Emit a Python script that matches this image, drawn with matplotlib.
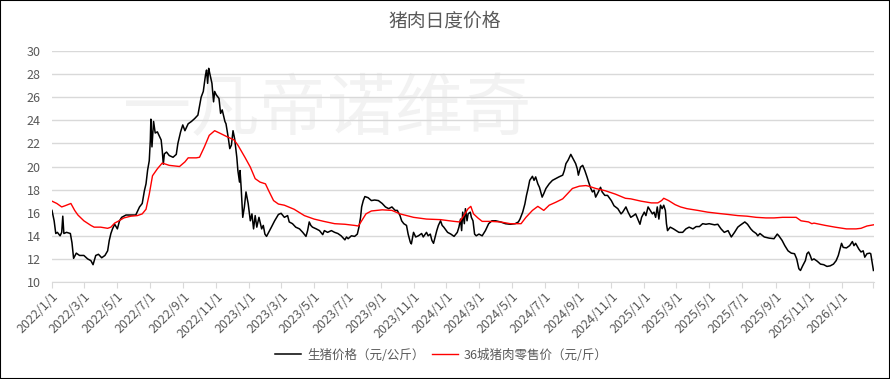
import matplotlib
matplotlib.use('Agg')
import matplotlib.pyplot as plt
from matplotlib.patches import Rectangle
import pandas as pd

plt.rcParams['font.family'] = ['Noto Sans CJK SC', 'DejaVu Sans']

# 生猪价格（元/公斤）
hog_dates = [
    '2022-01-01', '2022-01-05', '2022-01-08', '2022-01-11', '2022-01-16', '2022-01-19', '2022-01-21',
    '2022-01-23', '2022-01-28', '2022-02-04', '2022-02-07', '2022-02-10', '2022-02-15', '2022-02-21',
    '2022-03-01', '2022-03-08', '2022-03-14', '2022-03-18', '2022-03-23', '2022-03-28', '2022-04-03',
    '2022-04-09', '2022-04-14', '2022-04-17', '2022-04-20', '2022-04-23', '2022-04-27', '2022-05-02',
    '2022-05-06', '2022-05-10', '2022-05-18', '2022-05-27', '2022-06-05', '2022-06-12', '2022-06-17',
    '2022-06-21', '2022-06-24', '2022-06-27', '2022-06-30', '2022-07-02', '2022-07-03', '2022-07-05',
    '2022-07-08', '2022-07-11', '2022-07-15', '2022-07-19', '2022-07-22', '2022-07-24', '2022-07-26',
    '2022-07-28', '2022-08-01', '2022-08-06', '2022-08-13', '2022-08-19', '2022-08-22', '2022-08-27',
    '2022-08-31', '2022-09-04', '2022-09-10', '2022-09-16', '2022-09-22', '2022-09-28', '2022-10-04',
    '2022-10-08', '2022-10-12', '2022-10-14', '2022-10-16', '2022-10-18', '2022-10-20', '2022-10-24',
    '2022-10-27', '2022-10-29', '2022-11-01', '2022-11-06', '2022-11-09', '2022-11-12', '2022-11-17',
    '2022-11-19', '2022-11-23', '2022-11-26', '2022-11-29', '2022-12-02', '2022-12-05', '2022-12-09',
    '2022-12-11', '2022-12-14', '2022-12-15', '2022-12-17', '2022-12-20', '2022-12-23', '2022-12-26',
    '2022-12-30', '2023-01-03', '2023-01-06', '2023-01-09', '2023-01-12', '2023-01-15', '2023-01-19',
    '2023-01-24', '2023-01-27', '2023-01-30', '2023-02-02', '2023-02-06', '2023-02-11', '2023-02-17',
    '2023-02-24', '2023-03-01', '2023-03-07', '2023-03-13', '2023-03-16', '2023-03-22', '2023-03-28',
    '2023-04-04', '2023-04-10', '2023-04-16', '2023-04-19', '2023-04-22', '2023-04-25', '2023-04-28',
    '2023-05-05', '2023-05-11', '2023-05-17', '2023-05-20', '2023-05-26', '2023-06-02', '2023-06-08',
    '2023-06-14', '2023-06-20', '2023-06-27', '2023-06-30', '2023-07-03', '2023-07-09', '2023-07-15',
    '2023-07-20', '2023-07-23', '2023-07-26', '2023-07-28', '2023-07-31', '2023-08-03', '2023-08-09',
    '2023-08-15', '2023-08-21', '2023-08-28', '2023-09-04', '2023-09-10', '2023-09-16', '2023-09-22',
    '2023-09-28', '2023-10-02', '2023-10-07', '2023-10-10', '2023-10-14', '2023-10-19', '2023-10-22',
    '2023-10-26', '2023-10-28', '2023-11-01', '2023-11-05', '2023-11-10', '2023-11-16', '2023-11-19',
    '2023-11-25', '2023-11-28', '2023-12-02', '2023-12-05', '2023-12-08', '2023-12-11', '2023-12-14',
    '2023-12-17', '2023-12-21', '2023-12-24', '2023-12-27', '2024-01-03', '2024-01-09', '2024-01-15',
    '2024-01-21', '2024-01-24', '2024-01-27', '2024-01-29', '2024-01-31', '2024-02-03', '2024-02-05',
    '2024-02-08', '2024-02-10', '2024-02-14', '2024-02-16', '2024-02-19', '2024-02-22', '2024-02-25',
    '2024-03-01', '2024-03-07', '2024-03-13', '2024-03-19', '2024-03-25', '2024-04-01', '2024-04-10',
    '2024-04-19', '2024-04-28', '2024-05-07', '2024-05-13', '2024-05-16', '2024-05-21', '2024-05-25',
    '2024-05-28', '2024-05-31', '2024-06-03', '2024-06-08', '2024-06-11', '2024-06-14', '2024-06-18',
    '2024-06-21', '2024-06-26', '2024-06-29', '2024-07-03', '2024-07-09', '2024-07-15', '2024-07-21',
    '2024-07-27', '2024-08-03', '2024-08-06', '2024-08-09', '2024-08-13', '2024-08-18', '2024-08-22',
    '2024-08-27', '2024-08-30', '2024-09-01', '2024-09-05', '2024-09-09', '2024-09-13', '2024-09-17',
    '2024-09-20', '2024-09-24', '2024-09-27', '2024-09-30', '2024-10-03', '2024-10-08', '2024-10-12',
    '2024-10-15', '2024-10-20', '2024-10-25', '2024-11-01', '2024-11-06', '2024-11-13', '2024-11-19',
    '2024-11-22', '2024-11-28', '2024-12-02', '2024-12-07', '2024-12-12', '2024-12-16', '2024-12-20',
    '2024-12-24', '2024-12-27', '2025-01-01', '2025-01-04', '2025-01-08', '2025-01-12', '2025-01-16',
    '2025-01-19', '2025-01-22', '2025-01-25', '2025-01-28', '2025-01-31', '2025-02-03', '2025-02-06',
    '2025-02-09', '2025-02-11', '2025-02-13', '2025-02-18', '2025-02-24', '2025-03-01', '2025-03-06',
    '2025-03-13', '2025-03-19', '2025-03-25', '2025-04-01', '2025-04-07', '2025-04-13', '2025-04-19',
    '2025-04-25', '2025-05-01', '2025-05-11', '2025-05-17', '2025-05-23', '2025-05-29', '2025-06-05',
    '2025-06-11', '2025-06-17', '2025-06-23', '2025-06-27', '2025-07-03', '2025-07-06', '2025-07-11',
    '2025-07-17', '2025-07-21', '2025-07-27', '2025-07-30', '2025-08-03', '2025-08-11', '2025-08-20',
    '2025-08-29', '2025-09-04', '2025-09-07', '2025-09-13', '2025-09-18', '2025-09-24', '2025-09-30',
    '2025-10-06', '2025-10-10', '2025-10-14', '2025-10-17', '2025-10-21', '2025-10-26', '2025-10-29',
    '2025-11-01', '2025-11-04', '2025-11-07', '2025-11-11', '2025-11-17', '2025-11-23', '2025-11-29',
    '2025-12-05', '2025-12-11', '2025-12-17', '2025-12-22', '2025-12-26', '2026-01-01', '2026-01-04',
    '2026-01-10', '2026-01-16', '2026-01-21', '2026-01-24', '2026-01-27', '2026-02-02', '2026-02-06',
    '2026-02-10', '2026-02-13', '2026-02-17', '2026-02-22', '2026-02-24', '2026-02-27', '2026-03-01',
]
hog_price = [
    16.2, 15.3, 14.2, 14.3, 14.0, 14.3, 15.7,
    14.2, 14.3, 14.2, 13.4, 12.05, 12.5, 12.3,
    12.3, 12.0, 11.85, 11.5, 12.3, 12.4, 12.1,
    12.3, 12.7, 13.6, 14.2, 14.6, 15.0, 14.6,
    15.3, 15.6, 15.8, 15.8, 15.8, 16.5, 16.8,
    17.9, 18.5, 19.7, 20.5, 22.3, 24.1, 21.7,
    23.9, 22.9, 23.0, 22.6, 22.3, 21.4, 20.2,
    21.1, 21.25, 20.95, 20.8, 21.05, 22.0, 23.0,
    23.6, 23.1, 23.7, 23.9, 24.15, 24.45, 26.0,
    26.5, 27.9, 28.35, 27.2, 28.5, 28.05, 27.2,
    25.6, 26.5, 26.2, 25.9, 24.6, 24.9, 23.9,
    23.7, 22.55, 21.55, 21.85, 23.1, 22.4, 20.8,
    19.65, 18.65, 19.65, 18.2, 15.6, 16.5, 17.8,
    16.8, 15.3, 15.9, 14.6, 15.75, 14.75, 15.6,
    14.6, 14.9, 14.15, 13.95, 14.3, 14.75, 15.3,
    15.85, 15.95, 15.6, 15.75, 15.2, 15.05, 14.75,
    14.6, 14.3, 13.95, 14.45, 15.2, 14.9, 14.75,
    14.6, 14.45, 14.1, 14.45, 14.3, 14.45, 14.3,
    14.2, 14.0, 13.65, 13.9, 13.75, 14.0, 13.95,
    14.15, 14.75, 15.6, 16.5, 17.05, 17.4, 17.3,
    17.05, 17.1, 17.05, 16.8, 16.5, 16.35, 16.5,
    16.2, 16.2, 15.75, 15.3, 15.05, 14.9, 14.15,
    13.45, 13.3, 14.3, 13.9, 14.0, 14.2, 13.9,
    14.3, 14.0, 14.15, 13.6, 13.35, 13.9, 14.45,
    14.9, 15.3, 14.9, 14.75, 14.3, 14.15, 13.95,
    14.3, 14.75, 15.45, 14.45, 16.05, 15.05, 16.35,
    15.3, 15.9, 16.05, 15.6, 15.3, 14.15, 14.0,
    14.15, 14.0, 14.45, 15.05, 15.3, 15.3, 15.2,
    15.05, 15.0, 15.05, 15.2, 15.45, 16.05, 16.75,
    17.5, 18.1, 18.8, 19.15, 18.8, 19.1, 18.5,
    18.2, 17.35, 17.65, 18.1, 18.5, 18.8, 18.95,
    19.1, 19.25, 19.65, 20.25, 20.55, 21.05, 20.7,
    20.25, 19.8, 19.25, 19.95, 20.1, 19.65, 19.1,
    18.65, 18.1, 17.8, 17.95, 17.35, 17.8, 18.2,
    17.8, 17.5, 17.5, 17.05, 16.6, 16.35, 15.9,
    16.05, 16.5, 16.05, 15.6, 15.75, 15.9, 15.45,
    15.0, 15.6, 16.05, 15.75, 16.5, 16.2, 15.9,
    16.05, 15.6, 16.5, 15.45, 16.65, 16.35, 16.65,
    16.2, 15.05, 14.45, 14.75, 14.6, 14.45, 14.3,
    14.3, 14.6, 14.75, 14.6, 14.8, 14.8, 15.05,
    15.0, 15.05, 14.95, 15.0, 14.6, 14.3, 14.45,
    13.9, 14.3, 14.75, 14.9, 15.1, 15.2, 15.0,
    14.6, 14.4, 14.2, 14.0, 14.2, 13.9, 13.8,
    13.75, 14.15, 14.0, 13.6, 13.15, 12.7, 12.5,
    12.45, 12.0, 11.15, 11.0, 11.4, 11.85, 12.45,
    12.6, 12.3, 11.9, 12.0, 11.8, 11.55, 11.5,
    11.35, 11.4, 11.55, 11.85, 12.3, 13.35, 13.0,
    12.95, 13.15, 13.5, 13.15, 13.35, 12.85, 12.6,
    12.7, 12.15, 12.45, 12.5, 12.45, 11.55, 11.0,
]

# 36城猪肉零售价（元/斤）
retail_dates = [
    '2022-01-01', '2022-01-10', '2022-01-19', '2022-01-25', '2022-02-05', '2022-02-12', '2022-02-18',
    '2022-03-01', '2022-03-14', '2022-03-20', '2022-04-01', '2022-04-14', '2022-04-20', '2022-04-27',
    '2022-05-05', '2022-05-14', '2022-05-27', '2022-06-08', '2022-06-17', '2022-06-24', '2022-06-30',
    '2022-07-06', '2022-07-15', '2022-07-24', '2022-08-06', '2022-08-25', '2022-09-04', '2022-09-10',
    '2022-09-25', '2022-10-01', '2022-10-10', '2022-10-19', '2022-10-29', '2022-11-07', '2022-11-20',
    '2022-12-04', '2022-12-11', '2022-12-24', '2023-01-03', '2023-01-12', '2023-01-21', '2023-01-31',
    '2023-02-06', '2023-02-15', '2023-02-24', '2023-03-07', '2023-03-25', '2023-04-13', '2023-05-01',
    '2023-05-19', '2023-06-08', '2023-06-27', '2023-07-15', '2023-07-22', '2023-07-28', '2023-08-05',
    '2023-08-15', '2023-09-04', '2023-09-22', '2023-10-07', '2023-11-01', '2023-11-25', '2023-12-21',
    '2024-01-15', '2024-01-25', '2024-01-31', '2024-02-06', '2024-02-10', '2024-02-15', '2024-02-20',
    '2024-02-28', '2024-03-07', '2024-03-22', '2024-04-10', '2024-04-28', '2024-05-18', '2024-05-27',
    '2024-06-08', '2024-06-18', '2024-06-29', '2024-07-09', '2024-07-21', '2024-08-03', '2024-08-12',
    '2024-08-21', '2024-09-03', '2024-09-15', '2024-09-20', '2024-10-03', '2024-10-21', '2024-11-09',
    '2024-11-27', '2024-12-07', '2024-12-26', '2025-01-14', '2025-01-26', '2025-02-02', '2025-02-06',
    '2025-02-15', '2025-02-27', '2025-03-09', '2025-03-21', '2025-04-10', '2025-04-28', '2025-05-16',
    '2025-06-05', '2025-06-23', '2025-07-10', '2025-07-27', '2025-08-14', '2025-08-29', '2025-09-14',
    '2025-10-09', '2025-10-18', '2025-11-01', '2025-11-07', '2025-11-11', '2025-12-02', '2025-12-20',
    '2026-01-10', '2026-01-28', '2026-02-06', '2026-02-17', '2026-03-01',
]
retail_price = [
    17.0, 16.8, 16.5, 16.6, 16.8, 16.2, 15.8,
    15.3, 14.9, 14.75, 14.75, 14.65, 14.75, 15.1,
    15.3, 15.55, 15.7, 15.75, 15.9, 16.3, 17.6,
    19.2, 19.8, 20.3, 20.1, 20.0, 20.4, 20.75,
    20.75, 20.8, 21.7, 22.7, 23.1, 22.9, 22.6,
    22.3, 21.85, 20.8, 19.95, 18.95, 18.65, 18.5,
    17.9, 17.05, 16.75, 16.65, 16.3, 15.75, 15.45,
    15.25, 15.05, 15.0, 14.9, 14.85, 15.3, 15.9,
    16.15, 16.25, 16.2, 15.9, 15.6, 15.45, 15.4,
    15.25, 15.2, 15.6, 16.05, 16.35, 16.55, 15.9,
    15.55, 15.25, 15.25, 15.2, 15.05, 15.05, 15.6,
    16.2, 16.55, 16.2, 16.65, 16.9, 17.2, 17.65,
    18.1, 18.3, 18.35, 18.3, 18.1, 17.9, 17.6,
    17.25, 17.2, 17.0, 16.85, 16.85, 17.05, 17.25,
    17.05, 16.7, 16.5, 16.35, 16.2, 16.05, 15.95,
    15.85, 15.75, 15.7, 15.6, 15.55, 15.55, 15.6,
    15.6, 15.3, 15.2, 15.05, 15.1, 14.9, 14.75,
    14.6, 14.6, 14.65, 14.85, 14.95,
]

tick_dates = pd.date_range('2022-01-01', '2026-03-01', freq='2MS')
tick_labels = [f'{d.year}/{d.month}/{d.day}' for d in tick_dates[:-1]] + ['']

hog = pd.Series(hog_price, index=pd.to_datetime(hog_dates))
retail = pd.Series(retail_price, index=pd.to_datetime(retail_dates))

fig = plt.figure(figsize=(8.9, 3.79), dpi=100)
ax = fig.add_axes([0.0584, 0.2559, 0.9236, 0.6095])

grey = '#595959'
grid = '#d9d9d9'

# watermark
ax.text(0.334, 0.74, '一凡帝诺维奇', transform=ax.transAxes, fontsize=49,
        color='#f2f2f2', ha='center', va='center', zorder=0)

ax.plot(hog.index, hog.values, color='black', lw=1.1, label='生猪价格（元/公斤）', zorder=3)
ax.plot(retail.index, retail.values, color='#ff0000', lw=1.0, label='36城猪肉零售价（元/斤）', zorder=3)

ax.set_ylim(10, 30)
ax.set_yticks(range(10, 31, 2))
ax.set_xlim(pd.Timestamp('2022-01-01'), pd.Timestamp('2026-03-02'))
ax.set_xticks(tick_dates)
ax.set_xticklabels(tick_labels, rotation=45, ha='right', rotation_mode='anchor')

ax.grid(axis='y', color=grid, lw=1.0, zorder=1)
ax.set_axisbelow(True)
for s in ['top', 'right', 'left']:
    ax.spines[s].set_visible(False)
ax.spines['bottom'].set_color(grid)
ax.tick_params(axis='y', length=0, labelsize=9, labelcolor=grey, pad=8)
ax.tick_params(axis='x', length=4, color=grid, labelsize=9, labelcolor=grey, pad=2)

fig.text(0.5, 0.945, '猪肉日度价格', ha='center', va='center', fontsize=13.5, color=grey)

fig.legend(loc='center', bbox_to_anchor=(0.496, 0.063), ncol=2, frameon=False,
           fontsize=9, labelcolor=grey, handlelength=2.1, handletextpad=0.45,
           columnspacing=0.6)

fig.patches.append(Rectangle((0, 0), 1, 1, transform=fig.transFigure, fill=False,
                             edgecolor='black', lw=1.5))

fig.savefig('out.png', dpi=100)
